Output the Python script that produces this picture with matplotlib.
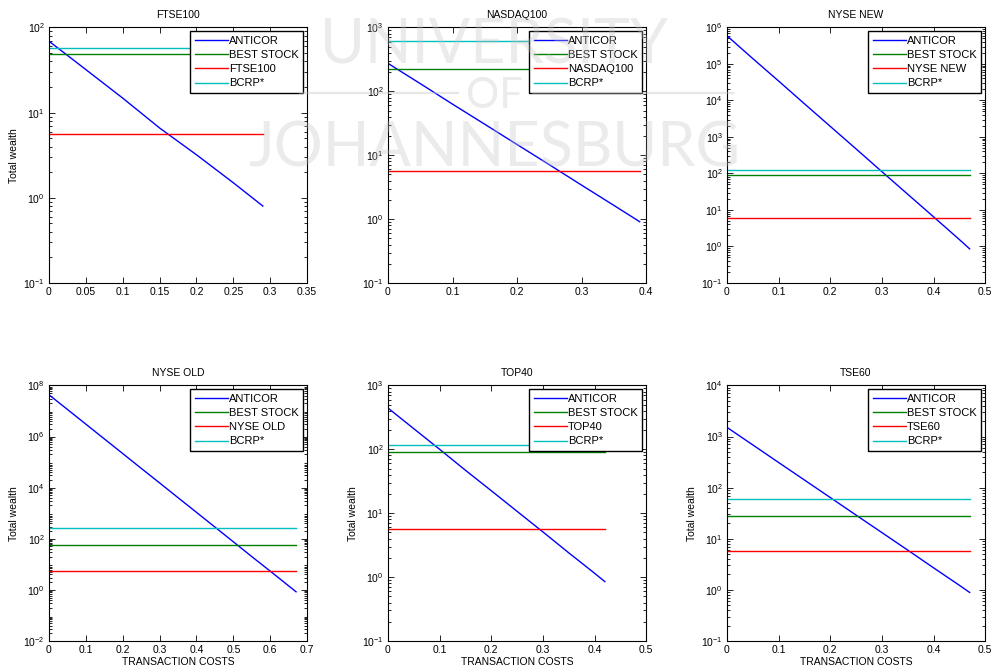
import numpy as np
import matplotlib
matplotlib.use("Agg")
import matplotlib.pyplot as plt
from matplotlib.ticker import LogLocator, NullFormatter

plt.rcParams['font.family'] = ['Liberation Sans', 'DejaVu Sans']

# transaction cost grids (fraction) and ANTICOR wealth
x_ftse = [0, 0.05, 0.10, 0.15, 0.20, 0.25, 0.29]
w_ftse = [69, 32, 14.8, 6.6, 3.2, 1.5, 0.80]

x_nasdaq = [0, 0.05, 0.10, 0.15, 0.20, 0.25, 0.30, 0.35, 0.39]
w_nasdaq = [274, 132, 63, 30.5, 14.7, 7.1, 3.4, 1.64, 0.91]

x_nysenew = [0, 0.05, 0.10, 0.15, 0.20, 0.25, 0.30, 0.35, 0.40, 0.45, 0.47]
w_nysenew = [5.9e5, 1.4e5, 3.4e4, 8100, 1950, 470, 112, 27, 6.5, 1.55, 0.86]

x_nyseold = [0, 0.05, 0.10, 0.15, 0.20, 0.25, 0.30, 0.35, 0.40, 0.45, 0.50,
             0.55, 0.60, 0.65, 0.67]
w_nyseold = [4.3e7, 1.15e7, 3.05e6, 8.1e5, 2.16e5, 5.7e4, 1.53e4, 4050, 1080,
             286, 76, 20, 5.4, 1.43, 0.84]

x_top40 = [0, 0.05, 0.10, 0.15, 0.20, 0.25, 0.30, 0.35, 0.40, 0.42]
w_top40 = [443, 210, 100, 47, 22.5, 10.7, 5.1, 2.4, 1.15, 0.85]

x_tse60 = [0, 0.05, 0.10, 0.15, 0.20, 0.25, 0.30, 0.35, 0.40, 0.45, 0.47]
w_tse60 = [1510, 685, 310, 141, 64, 29, 13.2, 6.0, 2.7, 1.23, 0.89]

# constant benchmarks: best stock, market index, BCRP*
names = ["FTSE100", "NASDAQ100", "NYSE NEW", "NYSE OLD", "TOP40", "TSE60"]
best_stock = [48.5, 226, 92, 56, 90, 27.8]
market = [5.6, 5.7, 6.0, 5.7, 5.75, 5.7]
bcrp = [56.6, 620, 125, 257, 118, 60]

xs = [x_ftse, x_nasdaq, x_nysenew, x_nyseold, x_top40, x_tse60]
ws = [w_ftse, w_nasdaq, w_nysenew, w_nyseold, w_top40, w_tse60]

xlims = [(0, 0.35), (0, 0.4), (0, 0.5), (0, 0.7), (0, 0.5), (0, 0.5)]
xticks = [np.arange(0, 0.351, 0.05), np.arange(0, 0.41, 0.1),
          np.arange(0, 0.51, 0.1), np.arange(0, 0.71, 0.1),
          np.arange(0, 0.51, 0.1), np.arange(0, 0.51, 0.1)]
ylims = [(1e-1, 1e2), (1e-1, 1e3), (1e-1, 1e6), (1e-2, 1e8), (1e-1, 1e3), (1e-1, 1e4)]

C_BLUE = "#0000ff"
C_GREEN = "#008000"
C_RED = "#ff0000"
C_CYAN = "#00bfbf"

fig = plt.figure(figsize=(9.91, 6.69), dpi=100, facecolor="white")

lefts = [0.0494, 0.3915, 0.7336]
bottoms = [0.577, 0.0419]
w_ax, h_ax = 0.2605, 0.382

for i, name in enumerate(names):
    row, col = divmod(i, 3)
    ax = fig.add_axes([lefts[col], bottoms[row], w_ax, h_ax])
    x = xs[i]
    x0, x1 = x[0], x[-1]
    ax.semilogy(x, ws[i], color=C_BLUE, lw=1.0, label="ANTICOR")
    ax.plot([x0, x1], [best_stock[i]] * 2, color=C_GREEN, lw=1.0, label="BEST STOCK")
    ax.plot([x0, x1], [market[i]] * 2, color=C_RED, lw=1.0, label=name)
    ax.plot([x0, x1], [bcrp[i]] * 2, color=C_CYAN, lw=1.0, label="BCRP*")

    ax.set_xlim(*xlims[i])
    ax.set_ylim(*ylims[i])
    ax.set_xticks(xticks[i])
    ax.set_xticklabels([f"{v:g}" for v in xticks[i]])
    if name == "NYSE OLD":
        ax.yaxis.set_major_locator(LogLocator(base=100))
    else:
        ax.yaxis.set_major_locator(LogLocator(base=10))
    ax.yaxis.set_minor_locator(LogLocator(base=10, subs=np.arange(2, 10), numticks=50))
    ax.yaxis.set_minor_formatter(NullFormatter())

    ax.tick_params(which="both", direction="in", top=True, right=True,
                   labelsize=7.5, width=0.6)
    ax.tick_params(which="major", length=4, pad=3)
    ax.tick_params(which="minor", length=2)
    for sp in ax.spines.values():
        sp.set_linewidth(0.8)

    ax.set_title(name, fontsize=7.5, pad=7)
    if col == 0 or row == 1:
        ax.set_ylabel("Total wealth", fontsize=7.5, labelpad=3)
    if row == 1:
        ax.set_xlabel("TRANSACTION COSTS", fontsize=7.5, labelpad=1)

    leg = ax.legend(loc="upper right", fontsize=8, fancybox=False,
                    edgecolor="black", framealpha=1, handlelength=3.0,
                    handletextpad=0.1, labelspacing=0.38, borderpad=0.4,
                    borderaxespad=0.35)
    leg.get_frame().set_linewidth(1.0)

# faint university watermark across the top row
wm_col = "#c4c4c4"
wm = dict(color=wm_col, alpha=0.33, ha="center", va="center",
          fontweight="normal", family=["Lato", "Open Sans", "DejaVu Sans"], zorder=20)
fig.text(0.4985, 0.931, "UNIVERSITY", fontsize=44, **wm)
fig.text(0.4985, 0.857, "OF", fontsize=30, **wm)
fig.text(0.4985, 0.777, "JOHANNESBURG", fontsize=44, **wm)
fig.add_artist(plt.Line2D([0.303, 0.462], [0.861, 0.861], color=wm_col,
                          alpha=0.4, lw=1.6, zorder=20))
fig.add_artist(plt.Line2D([0.538, 0.740], [0.861, 0.861], color=wm_col,
                          alpha=0.4, lw=1.6, zorder=20))

fig.savefig("out.png", dpi=100, facecolor="white")
